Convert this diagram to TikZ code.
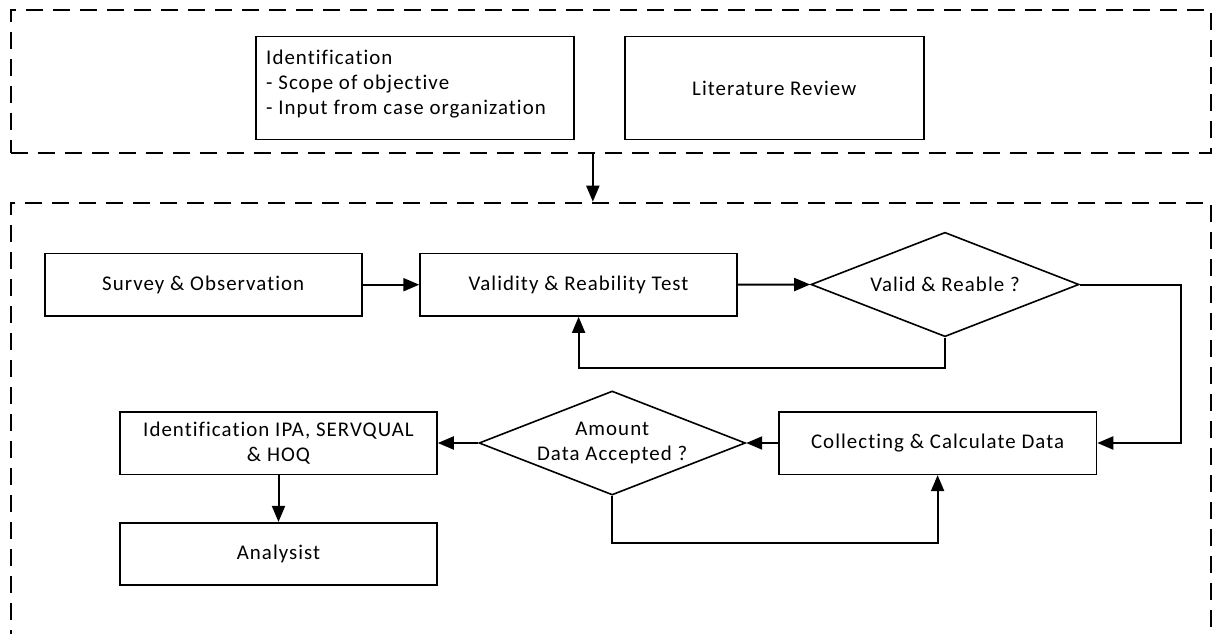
\documentclass[tikz,border=0pt]{standalone}
\usepackage{fontspec}
\setmainfont{Carlito}[LetterSpace=5,Ligatures=CommonOff]
\usetikzlibrary{arrows.meta,shapes.geometric}
\tikzset{
  box/.style={draw, line width=1.6pt, inner sep=0pt, align=center, font=\fontsize{20.9}{25}\selectfont},
  dia/.style={draw, diamond, line width=1.6pt, inner sep=0pt, align=center, shape aspect=2.58, font=\fontsize{20.9}{25}\selectfont},
  phase/.style={draw, line width=2pt, dash pattern=on 17pt off 10pt, inner sep=0pt},
  arr/.style={line width=2pt, -{Triangle[length=16pt,width=13pt]}},
  plain/.style={font=\fontsize{20.9}{25}\selectfont, inner sep=0pt, align=left}
}
\begin{document}
\begin{tikzpicture}[x=1pt,y=-1pt]
\useasboundingbox[fill=white] (0,0) rectangle (1213,634);
% phase containers
\node[phase, minimum width=1200.3pt, minimum height=142.7pt] (phase1) at (610.85,81.35) {};
\node[phase, minimum width=1200.3pt, minimum height=520pt] (phase2) at (610.85,462.7) {};
% top boxes
\node[box, minimum width=318pt, minimum height=102.6pt] (idbox) at (415,88) {};
\node[plain, anchor=west] (idtext) at (266,84) {Identification\\- Scope of objective\\- Input from case organization};
\node[box, minimum width=299pt, minimum height=102.6pt] (litbox) at (774.2,88) {Literature Review};
% flow
\node[box, minimum width=317pt, minimum height=62.7pt] (survey) at (203.2,284.7) {Survey \& Observation};
\node[box, minimum width=317pt, minimum height=62.7pt] (validity) at (578.6,284.7) {Validity \& Reability Test};
\node[dia, minimum width=268pt, minimum height=104.4pt] (valid) at (945,284.5) {Valid \& Reable ?};
\node[box, minimum width=317.8pt, minimum height=62.6pt] (collect) at (937.6,443) {Collecting \& Calculate Data};
\node[dia, minimum width=266.4pt, minimum height=104pt] (amount) at (612.2,443) {Amount\\Data Accepted ?};
\node[box, minimum width=317pt, minimum height=62.6pt] (ipa) at (278.5,443) {Identification IPA, SERVQUAL\\\& HOQ};
\node[box, minimum width=317pt, minimum height=62.3pt] (analysist) at (278.5,553.85) {Analysist};
\coordinate (rturn) at (1180.5,284.5);
% connectors
\draw[arr] ([xshift=-18pt]phase1.south) -- ([xshift=-18pt]phase2.north);
\draw[arr] (survey.east) -- (validity.west);
\draw[arr] (validity.east) -- (valid.west);
\draw[arr] (valid.south) -- ++(0,30) -| (validity.south);
\draw[arr] (valid.east) -- (rturn) |- (collect.east);
\draw[arr] (collect.west) -- (amount.east);
\draw[arr] (amount.west) -- (ipa.east);
\draw[arr] (amount.south) -- ++(0,47.3) -| (collect.south);
\draw[arr] (ipa.south) -- (analysist.north);
\end{tikzpicture}
\end{document}
